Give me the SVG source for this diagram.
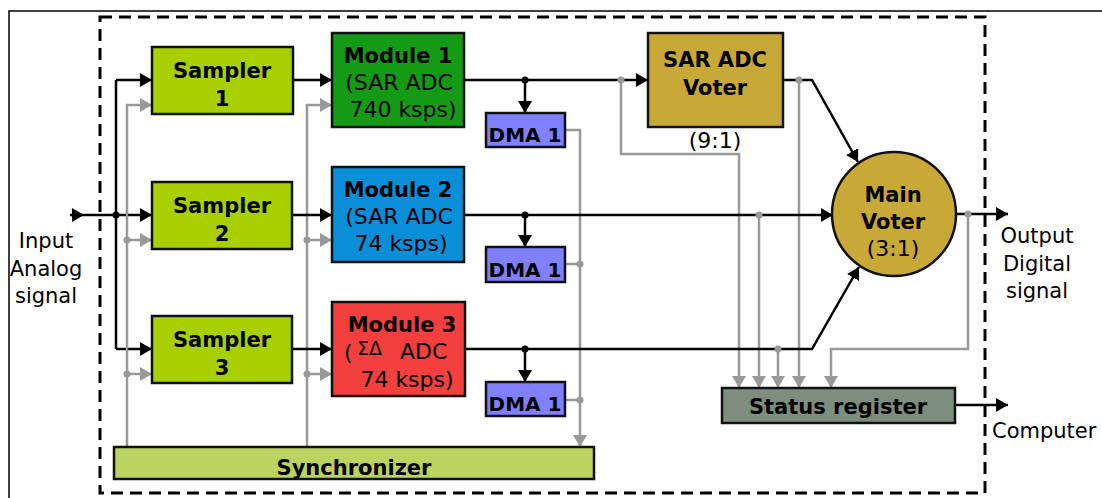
<svg xmlns="http://www.w3.org/2000/svg" width="1102" height="498" viewBox="0 0 1102 498">
<defs>
<marker id="ab" markerUnits="userSpaceOnUse" markerWidth="13" markerHeight="14" refX="12" refY="7" orient="auto"><path d="M0,0 L12,7 L0,14 z" fill="#000"/></marker>
<marker id="ag" markerUnits="userSpaceOnUse" markerWidth="13" markerHeight="14" refX="12" refY="7" orient="auto"><path d="M0,0 L12,7 L0,14 z" fill="#999"/></marker>
</defs>
<style>
text{font-family:"DejaVu Sans",Verdana,sans-serif;font-size:21px;fill:#000}
.b{font-weight:bold}
.m{text-anchor:middle}
.n{font-size:22px}
.box{stroke:#111;stroke-width:2.5}
.k{fill:none;stroke:#000;stroke-width:2.5}
.g{fill:none;stroke:#999;stroke-width:2.5}
.kd{fill:#000}
.gd{fill:#999}
</style>
<rect width="1102" height="498" fill="#fff"/>
<path d="M9,498 V11 H1102" fill="none" stroke="#000" stroke-width="1.5"/>
<rect x="100" y="17" width="885" height="476" fill="none" stroke="#000" stroke-width="3" stroke-dasharray="12 7"/>

<g id="connectors">
<path class="k" d="M70,215 H84" marker-end="url(#ab)"/>
<path class="k" d="M84,215 H152" marker-end="url(#ab)"/>
<path class="k" d="M116,80 V349"/>
<path class="k" d="M116,80 H152" marker-end="url(#ab)"/>
<path class="k" d="M116,349 H152" marker-end="url(#ab)"/>
<circle class="kd" cx="116" cy="215" r="3.5"/>
<path class="g" d="M127,447 V105 H152" marker-end="url(#ag)"/>
<path class="g" d="M127,240 H152" marker-end="url(#ag)"/>
<path class="g" d="M127,374 H152" marker-end="url(#ag)"/>
<circle class="gd" cx="127" cy="240" r="3.5"/>
<circle class="gd" cx="127" cy="374" r="3.5"/>
<path class="g" d="M307,447 V105 H332" marker-end="url(#ag)"/>
<path class="g" d="M307,240 H332" marker-end="url(#ag)"/>
<path class="g" d="M307,374 H332" marker-end="url(#ag)"/>
<circle class="gd" cx="307" cy="240" r="3.5"/>
<circle class="gd" cx="307" cy="374" r="3.5"/>
<path class="k" d="M293,80 H332" marker-end="url(#ab)"/>
<path class="k" d="M292,215 H332" marker-end="url(#ab)"/>
<path class="k" d="M292,349 H332" marker-end="url(#ab)"/>
<path class="g" d="M565,130 H580 V447" marker-end="url(#ag)"/>
<path class="g" d="M565,264 H580"/>
<path class="g" d="M565,400 H580"/>
<circle class="gd" cx="580" cy="264" r="3.5"/>
<circle class="gd" cx="580" cy="400" r="3.5"/>
<path class="k" d="M464,80 H648" marker-end="url(#ab)"/>
<path class="k" d="M525,80 V113" marker-end="url(#ab)"/>
<circle class="kd" cx="525" cy="80" r="3.5"/>
<path class="g" d="M621,80 V154 H739 V388" marker-end="url(#ag)"/>
<circle class="gd" cx="621" cy="80" r="3.5"/>
<path class="k" d="M783,80 H812 L858,162" marker-end="url(#ab)"/>
<path class="g" d="M799,80 V388" marker-end="url(#ag)"/>
<circle class="gd" cx="799" cy="80" r="3.5"/>
<path class="k" d="M464,215 H833" marker-end="url(#ab)"/>
<path class="k" d="M525,215 V247" marker-end="url(#ab)"/>
<circle class="kd" cx="525" cy="215" r="3.5"/>
<path class="g" d="M759,215 V388" marker-end="url(#ag)"/>
<circle class="gd" cx="759" cy="215" r="3.5"/>
<path class="k" d="M465,349 H812 L859,267" marker-end="url(#ab)"/>
<path class="k" d="M525,349 V382" marker-end="url(#ab)"/>
<circle class="kd" cx="525" cy="349" r="3.5"/>
<path class="g" d="M778,349 V388" marker-end="url(#ag)"/>
<circle class="gd" cx="778" cy="349" r="3.5"/>
<path class="k" d="M955,214 H1008" marker-end="url(#ab)"/>
<path class="g" d="M968,214 V349 H831 V388" marker-end="url(#ag)"/>
<circle class="gd" cx="968" cy="214" r="3.5"/>
<path class="k" d="M955,405 H1008" marker-end="url(#ab)"/>
</g>

<g id="sampler1"><rect class="box" x="152" y="47" width="141" height="67" fill="#a8d000"/><text class="b m" x="222" y="78">Sampler</text><text class="b m" x="222" y="106">1</text></g>
<g id="sampler2"><rect class="box" x="152" y="182" width="140" height="67" fill="#a8d000"/><text class="b m" x="222" y="213">Sampler</text><text class="b m" x="222" y="241">2</text></g>
<g id="sampler3"><rect class="box" x="152" y="316" width="140" height="67" fill="#a8d000"/><text class="b m" x="222" y="347">Sampler</text><text class="b m" x="222" y="375">3</text></g>

<g id="module1"><rect class="box" x="332" y="33" width="132" height="94" fill="#159a15"/><text class="b m" x="398" y="63">Module 1</text><text class="m n" x="399" y="90">(SAR ADC</text><text class="m n" x="403" y="117">740 ksps)</text></g>
<g id="module2"><rect class="box" x="332" y="167" width="132" height="95" fill="#0b8ed8"/><text class="b m" x="398" y="197">Module 2</text><text class="m n" x="399" y="224">(SAR ADC</text><text class="m n" x="401" y="251">74 ksps)</text></g>
<g id="module3"><rect class="box" x="332" y="302" width="133" height="94" fill="#f43f3f"/><text class="b m" x="402" y="332">Module 3</text><text class="n" x="344" y="360">(</text><text x="357" y="355" style="font-size:19px">ΣΔ</text><text class="n" x="400" y="359">ADC</text><text class="m n" x="407" y="387">74 ksps)</text></g>

<g id="dma1"><rect class="box" x="486" y="113" width="79" height="34" fill="#8080ff"/><text class="b m" x="525" y="142" style="font-size:20px">DMA 1</text></g>
<g id="dma2"><rect class="box" x="486" y="247" width="79" height="35" fill="#8080ff"/><text class="b m" x="525" y="277" style="font-size:20px">DMA 1</text></g>
<g id="dma3"><rect class="box" x="486" y="382" width="79" height="34" fill="#8080ff"/><text class="b m" x="525" y="411" style="font-size:20px">DMA 1</text></g>

<g id="sar-voter"><rect class="box" x="648" y="33" width="135" height="94" fill="#c8a938"/><text class="b m" x="715" y="67">SAR ADC</text><text class="b m" x="715" y="95">Voter</text><text class="m n" x="715" y="148">(9:1)</text></g>

<g id="main-voter"><circle class="box" cx="894" cy="214" r="62" fill="#c8a938"/><text class="b m" x="893" y="202">Main</text><text class="b m" x="893" y="229">Voter</text><text class="m n" x="893" y="256">(3:1)</text></g>

<g id="status-register"><rect class="box" x="722" y="388" width="233" height="35" fill="#7e8e7e"/><text class="b m" x="838" y="414">Status register</text></g>

<g id="synchronizer"><rect class="box" x="114" y="447" width="480" height="32" fill="#bdd35f"/><text class="b m" x="354" y="475">Synchronizer</text></g>

<g id="labels">
<text class="m" x="46" y="248">Input</text>
<text class="m" x="46" y="276">Analog</text>
<text class="m" x="46" y="303">signal</text>
<text class="m" x="1037" y="243">Output</text>
<text class="m" x="1037" y="271">Digital</text>
<text class="m" x="1037" y="298">signal</text>
<text x="992" y="438">Computer</text>
</g>
</svg>
